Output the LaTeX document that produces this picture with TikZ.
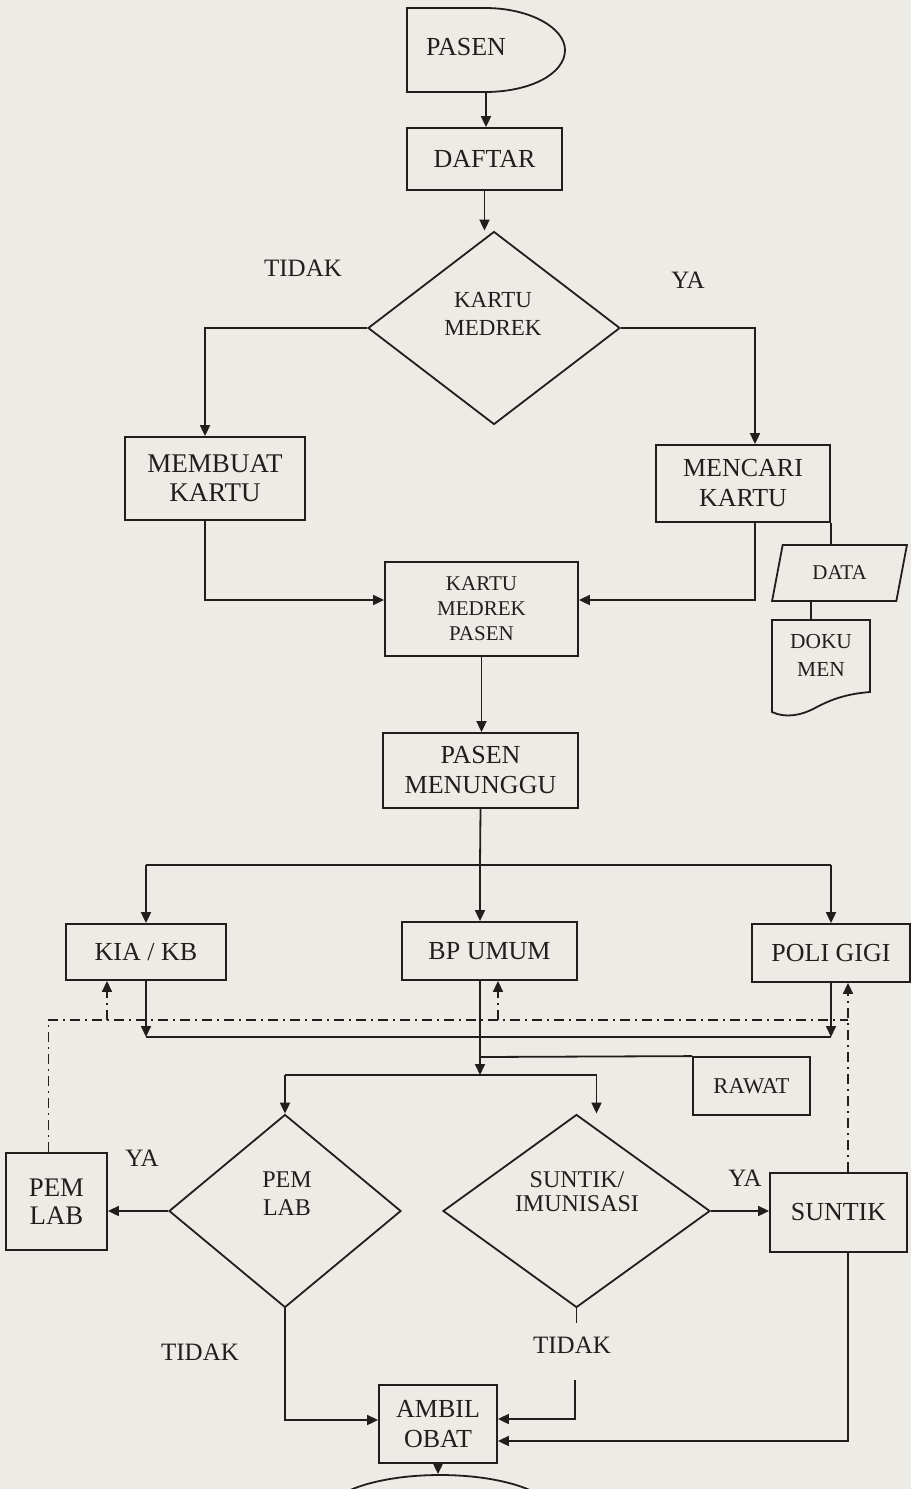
\documentclass[tikz,border=0pt]{standalone}
\usepackage{fontspec}
\setmainfont{Liberation Serif}
\usetikzlibrary{arrows.meta,shapes.geometric}
\definecolor{paper}{RGB}{237,235,230}
\definecolor{ink}{RGB}{35,30,28}
\begin{document}
\begin{tikzpicture}[x=0.5pt,y=-0.5pt,
  every node/.style={inner sep=0pt, align=center, text=ink, font=\fontsize{13}{15}\selectfont},
  ln/.style={draw=ink, line width=0.9pt},
  box/.style={ln, rectangle},
  dec/.style={ln, diamond},
  arr/.style={ln, -{Triangle[length=5.5pt,width=5pt]}},
  dd/.style={draw=ink, line width=0.75pt, dash pattern=on 5pt off 2.5pt on 1pt off 2.5pt},
  ddarr/.style={dd, -{Triangle[length=5.5pt,width=5pt]}},
  lbl/.style={font=\fontsize{12.5}{14}\selectfont}
]
\fill[paper] (0,0) rectangle (911,1489);
\useasboundingbox (0,0) rectangle (911,1489);
\clip (0,0) rectangle (911,1489);

% start
\node[minimum width=79pt, minimum height=42pt] (pasen) at (486,50) {};
\draw[ln] (407,8) -- (485,8) .. controls (530,8) and (565,28) .. (565,50) .. controls (565,74) and (530,92) .. (485,92) -- (407,92) -- cycle;
\node (pasenT) at (466,47) {PASEN};

\node[box, minimum width=77.5pt, minimum height=31pt] (daftar) at (484.5,159) {DAFTAR};
\draw[arr] (pasen.south) -- (pasen.south |- daftar.north);

\node[dec, minimum width=126pt, minimum height=96.5pt] (kartu) at (494,328) {};
\node[font=\fontsize{11.5}{14}\selectfont] (kartuT) at (493,314) {KARTU\\MEDREK};
\draw[arr] (daftar.south) -- (daftar.south |- kartu.north);

\node[lbl] (tidak1) at (303,268) {TIDAK};
\node[lbl] (ya1) at (688,280) {YA};

\node[box, minimum width=90pt, minimum height=41.5pt, font=\fontsize{13.5}{14.5}\selectfont] (membuat) at (215,478.5) {MEMBUAT\\KARTU};
\draw[arr] (kartu.west) -| ([xshift=-5pt]membuat.north);

\node[box, minimum width=87pt, minimum height=38.5pt] (mencari) at (743,483.5) {MENCARI\\KARTU};
\draw[arr] (kartu.east) -| ([xshift=6pt]mencari.north);

\node[box, minimum width=96.5pt, minimum height=47pt, font=\fontsize{10.5}{12.5}\selectfont] (kmp) at (481.5,609) {KARTU\\MEDREK\\PASEN};
\draw[arr] ([xshift=-5pt]membuat.south) |- ([yshift=4.5pt]kmp.west);
\draw[arr] ([xshift=6pt]mencari.south) |- ([yshift=4.5pt]kmp.east);

\node[ln, trapezium, trapezium left angle=70, trapezium right angle=110, trapezium stretches=true, minimum width=67.5pt, minimum height=28pt, font=\fontsize{10.5}{12}\selectfont] (data) at (839.5,573) {DATA};
\draw[ln] (mencari.south east) -- (mencari.south east |- data.north);

\node[minimum width=49pt, minimum height=35pt, font=\fontsize{10.7}{14}\selectfont] (dok) at (821,655) {DOKU\\MEN};
\draw[ln] (772,620) -- (870,620) -- (870,692) .. controls (845,694) and (830,700) .. (815,708) .. controls (800,716) and (785,718) .. (772,712) -- cycle;
\draw[ln] ([xshift=-5pt]dok.north) -- ([xshift=-5pt]dok.north |- data.south);

\node[box, minimum width=97.5pt, minimum height=37.5pt] (menunggu) at (480.5,770.5) {PASEN\\MENUNGGU};
\draw[arr] (kmp.south) -- (kmp.south |- menunggu.north);

\coordinate (j1) at (480,865);
\coordinate (j2) at (480,1037);
\coordinate (j3) at (480,1057);
\coordinate (j4) at (480,1075);
\coordinate (dd0) at (480,1020);

\node[box, minimum width=80pt, minimum height=28pt] (kia) at (146,952) {KIA / KB};
\node[box, minimum width=87.5pt, minimum height=29pt] (bp) at (489.5,951) {BP UMUM};
\node[box, minimum width=79pt, minimum height=29pt] (poli) at (831,953) {POLI GIGI};

\draw[ln] (menunggu.south) -- (j1);
\draw[arr] (j1) -- (j1 |- bp.north);
\draw[ln] (j1 -| kia.north) -- (j1 -| poli.north);
\draw[arr] (j1 -| kia.north) -- (kia.north);
\draw[arr] (j1 -| poli.north) -- (poli.north);

\draw[arr] (kia.south) -- (kia.south |- j2);
\draw[arr] (poli.south) -- (poli.south |- j2);
\draw[ln] (kia.south |- j2) -- (poli.south |- j2);
\draw[arr] (j1 |- bp.south) -- (j4);

\node[box, minimum width=58.5pt, minimum height=29pt, font=\fontsize{11.3}{13}\selectfont] (rawat) at (751.5,1086) {RAWAT};
\draw[ln] (j3) -- (rawat.north west);

\node[dec, minimum width=116pt, minimum height=96.5pt] (pemlab) at (285,1211) {};
\node[font=\fontsize{12}{14}\selectfont] (pemlabT) at (287,1194) {PEM\\LAB};
\node[dec, minimum width=133.5pt, minimum height=96.5pt] (suntik) at (576.5,1211) {};
\node[font=\fontsize{12}{12}\selectfont] (suntikT) at (577,1192) {SUNTIK/\\IMUNISASI};

\draw[ln] (j4 -| pemlab.north) -- ([xshift=10pt]suntik.north |- j4);
\draw[arr] (j4 -| pemlab.north) -- (pemlab.north);
\draw[arr] ([xshift=10pt]suntik.north |- j4) -- ([xshift=10pt]suntik.north);

\node[box, minimum width=50.5pt, minimum height=48.5pt, font=\fontsize{13.4}{14}\selectfont] (pembox) at (56.5,1201.5) {PEM\\LAB};
\draw[arr] (pemlab.west) -- (pemlab.west -| pembox.east);
\node[lbl] (ya2) at (142,1158) {YA};

\node[box, minimum width=68.5pt, minimum height=39.5pt] (suntikbox) at (838.5,1212.5) {SUNTIK};
\draw[arr] (suntik.east) -- (suntik.east -| suntikbox.west);
\node[lbl] (ya3) at (745,1178) {YA};

\node[box, minimum width=59pt, minimum height=39pt] (ambil) at (438,1424) {AMBIL\\OBAT};
\draw[arr] (pemlab.south) |- ([yshift=2pt]ambil.west);
\node[lbl] (tidak2) at (200,1352) {TIDAK};

\coordinate (t2top) at (575,1323);
\coordinate (t2bot) at (575,1380);
\draw[ln] (suntik.south) -- (suntik.south |- t2top);
\node[lbl] (tidak3) at (572,1345) {TIDAK};
\draw[arr] (t2bot) |- ([yshift=2.5pt]ambil.east);
\draw[arr] ([xshift=4.75pt]suntikbox.south) |- ([yshift=-8.5pt]ambil.east);

\node[ln, ellipse, minimum width=115pt, minimum height=40pt] (selesai) at (440,1515) {};
\draw[arr] (ambil.south) -- (ambil.south |- selesai.north);

% dash-dot feedback lines
\draw[dd] ([xshift=-4pt]pembox.north) |- ([xshift=4.75pt]suntikbox.north |- dd0);
\draw[ddarr] ([xshift=-19.5pt]kia.south |- dd0) -- ([xshift=-19.5pt]kia.south);
\draw[ddarr] ([xshift=4.25pt]bp.south |- dd0) -- ([xshift=4.25pt]bp.south);
\draw[ddarr] ([xshift=4.75pt]suntikbox.north) -- ([xshift=4.75pt]suntikbox.north |- poli.south);
\end{tikzpicture}
\end{document}
